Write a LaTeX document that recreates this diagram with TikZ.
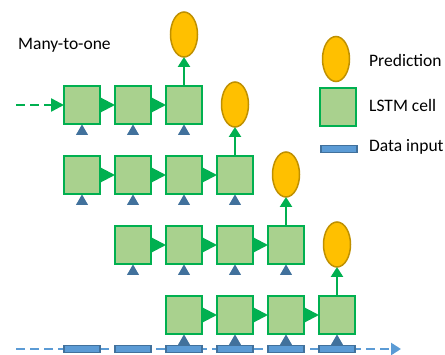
\documentclass[tikz,border=0pt]{standalone}
\usepackage{fontspec}
\setmainfont{Carlito}
\usepackage{tikz}
\usetikzlibrary{arrows.meta,positioning,shapes.geometric}
\definecolor{lstmline}{HTML}{00B050}
\definecolor{lstmfill}{HTML}{A9D18E}
\definecolor{predfill}{HTML}{FFC000}
\definecolor{predline}{HTML}{BF9000}
\definecolor{inline}{HTML}{41719C}
\definecolor{infill}{HTML}{5B9BD5}

\begin{document}
\begin{tikzpicture}[x=1pt,y=-1pt,font=\fontsize{17.5}{20}\selectfont,
  node distance=32pt and 15pt,
  cell/.style={draw=lstmline,fill=lstmfill,line width=2pt,minimum width=36pt,minimum height=38pt,inner sep=0pt,outer sep=0pt},
  pred/.style={ellipse,draw=predline,fill=predfill,line width=1.5pt,minimum width=27pt,minimum height=45pt,inner sep=0pt,outer sep=0pt},
  datain/.style={draw=inline,fill=infill,line width=1.5pt,minimum width=36pt,minimum height=7pt,inner sep=0pt,outer sep=0pt},
  feed/.style={regular polygon,regular polygon sides=3,fill=inline,inner sep=0pt,minimum size=14pt},
  hop/.style={lstmline,line width=2pt,-{Triangle[length=14pt,width=14pt]}},
  emit/.style={lstmline,line width=2.5pt,-{Triangle[length=10pt,width=12pt]}},
  txt/.style={inner sep=0pt,anchor=base west}]
  \useasboundingbox (0,0) rectangle (445,355);

  % sequence of data inputs along the bottom
  \coordinate (seqstart) at (16,349);
  \coordinate (seqend) at (401,349);
  \draw [infill,line width=2.5pt,dash pattern=on 9pt off 5pt,-{Triangle[length=10pt,width=12pt]}] (seqstart) -- (seqend);
  \node [datain] (x1) at (82,349) {};
  \node [datain,right=of x1] (x2) {};
  \node [datain,right=of x2] (x3) {};
  \node [datain,right=of x3] (x4) {};
  \node [datain,right=of x4] (x5) {};
  \node [datain,right=of x5] (x6) {};

  % four windows, shifted one step each
  \node [cell] (a1) at (82,105) {};
  \node [cell,right=of a1] (a2) {};
  \node [cell,right=of a2] (a3) {};
  \node [cell,below=of a1] (b1) {};
  \node [cell,right=of b1] (b2) {};
  \node [cell,right=of b2] (b3) {};
  \node [cell,right=of b3] (b4) {};
  \node [cell,below=of b2] (c2) {};
  \node [cell,right=of c2] (c3) {};
  \node [cell,right=of c3] (c4) {};
  \node [cell,right=of c4] (c5) {};
  \node [cell,below=of c3] (d3) {};
  \node [cell,right=of d3] (d4) {};
  \node [cell,right=of d4] (d5) {};
  \node [cell,right=of d5] (d6) {};

  % inputs feeding each cell
  \foreach \c in {a1,a2,a3,b1,b2,b3,b4,c2,c3,c4,c5,d3,d4,d5,d6}
    \node [feed,below=0pt of \c] (in-\c) {};

  \draw [hop] (a1) -- (a2);
  \draw [hop] (a2) -- (a3);
  \draw [hop] (b1) -- (b2);
  \draw [hop] (b2) -- (b3);
  \draw [hop] (b3) -- (b4);
  \draw [hop] (c2) -- (c3);
  \draw [hop] (c3) -- (c4);
  \draw [hop] (c4) -- (c5);
  \draw [hop] (d3) -- (d4);
  \draw [hop] (d4) -- (d5);
  \draw [hop] (d5) -- (d6);

  % state carried in from earlier steps
  \coordinate (carry) at (16,105);
  \draw [lstmline,line width=2.5pt,dash pattern=on 9pt off 5pt,-{Triangle[length=13pt,width=13pt]}] (carry) -- (a1);

  % one prediction per window
  \node [pred,above=29pt of a3] (ya) {};
  \node [pred,above=29pt of b4] (yb) {};
  \node [pred,above=29pt of c5] (yc) {};
  \node [pred,above=29pt of d6] (yd) {};
  \draw [emit] (a3) -- (ya);
  \draw [emit] (b4) -- (yb);
  \draw [emit] (c5) -- (yc);
  \draw [emit] (d6) -- (yd);

  \node [txt] (title) at (18,50) {Many-to-one};

  % legend
  \node [pred] (keypred) at (336,59) {};
  \node [cell] (keycell) at (338,107) {};
  \node [datain] (keyin) at (339,149) {};
  \node [txt] (keypredtxt) at (369,67) {Prediction};
  \node [txt] (keycelltxt) at (369,112) {LSTM cell};
  \node [txt] (keyintxt) at (369,152) {Data input};
\end{tikzpicture}
\end{document}
